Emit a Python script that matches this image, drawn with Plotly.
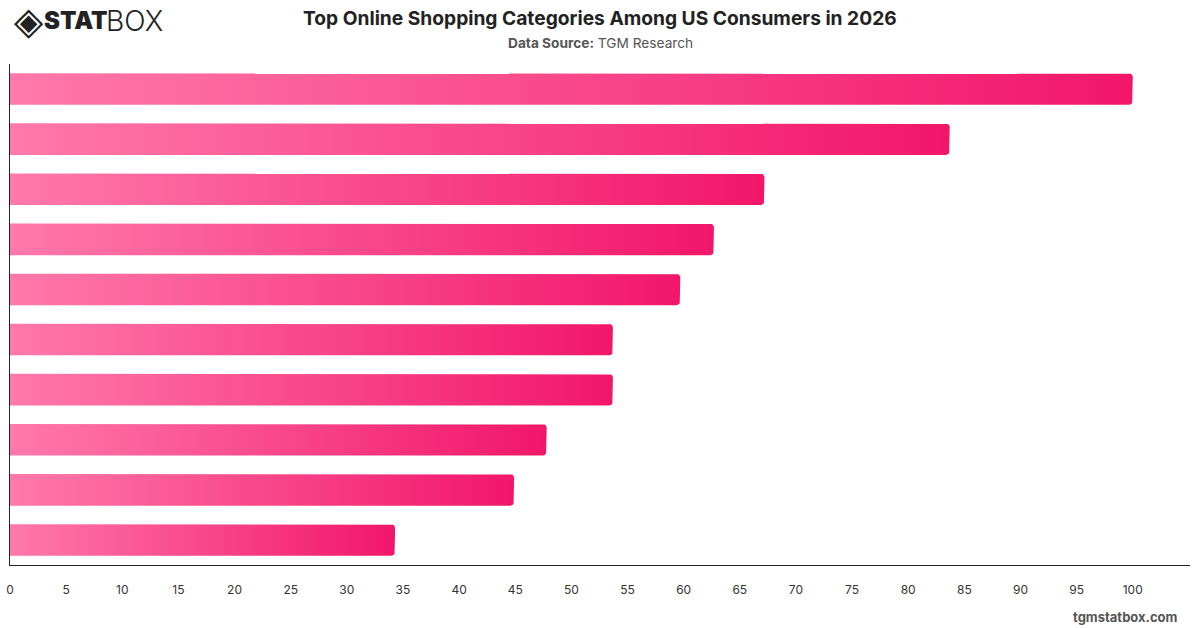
import math
import plotly.graph_objects as go

# ---------------- data ----------------
categories = [
    "Clothing & Apparel",
    "Electronics",
    "Household Products",
    "Health & Beauty",
    "Shoes",
    "Groceries",
    "Books & Media",
    "Toys & Games",
    "Sports & Outdoor",
    "Furniture",
]
values = [100, 83.7, 67.2, 62.7, 59.7, 53.7, 53.7, 47.8, 44.9, 34.3]
x_ticks = list(range(0, 101, 5))

# ---------------- layout constants ----------------
W, H = 1200, 628
ML, MR, MT, MB = 10, 10, 64, 63
X_MAX = 105.1
BAR_W = 0.63
RADIUS_PX = 4
COLOR_LEFT = "#FF79AA"
COLOR_RIGHT = "#F2166A"

plot_w = W - ML - MR
plot_h = H - MT - MB
n = len(categories)
px_per_x = plot_w / X_MAX
px_per_y = plot_h / n


def py2paper(py):
    return (H - MB - py) / plot_h


def px2paper(px):
    return (px - ML) / plot_w


def bar_outline(i, v):
    """Polygon for a horizontal bar with rounded right corners, from data."""
    rx = RADIUS_PX / px_per_x
    ry = RADIUS_PX / px_per_y
    y0, y1 = i - BAR_W / 2, i + BAR_W / 2
    xs, ys = [0, v - rx], [y0, y0]
    steps = 6
    for k in range(1, steps + 1):
        a = -math.pi / 2 + (math.pi / 2) * k / steps
        xs.append(v - rx + rx * math.cos(a))
        ys.append(y0 + ry + ry * math.sin(a))
    xs.append(v)
    ys.append(y1 - ry)
    for k in range(1, steps + 1):
        a = (math.pi / 2) * k / steps
        xs.append(v - rx + rx * math.cos(a))
        ys.append(y1 - ry + ry * math.sin(a))
    xs += [0, 0]
    ys += [y1, y0]
    return xs, ys


fig = go.Figure()
for i, (cat, v) in enumerate(zip(categories, values)):
    xs, ys = bar_outline(i, v)
    fig.add_trace(
        go.Scatter(
            x=xs,
            y=ys,
            mode="lines",
            fill="toself",
            fillgradient=dict(
                type="horizontal",
                colorscale=[[0, COLOR_LEFT], [1, COLOR_RIGHT]],
            ),
            line=dict(width=0, color=COLOR_RIGHT),
            name=cat,
            text=[f"{cat}: {v}"] * len(xs),
            hoverinfo="text",
            hoveron="fills",
            showlegend=False,
        )
    )

fig.update_layout(
    width=W,
    height=H,
    margin=dict(l=ML, r=MR, t=MT, b=MB, autoexpand=False),
    paper_bgcolor="white",
    plot_bgcolor="white",
    font=dict(family="Inter, Roboto, sans-serif", color="#333"),
    xaxis=dict(
        range=[0, X_MAX],
        tickvals=x_ticks,
        ticktext=[str(t) for t in x_ticks],
        showgrid=False,
        zeroline=False,
        showline=True,
        linecolor="#222",
        linewidth=1,
        ticks="",
        ticklabelstandoff=14,
        tickfont=dict(size=12, color="#333", family="Inter, sans-serif"),
        automargin=False,
        fixedrange=True,
    ),
    yaxis=dict(
        range=[n - 0.5, -0.5],
        tickvals=list(range(n)),
        ticktext=categories,
        showticklabels=False,
        showgrid=False,
        zeroline=False,
        showline=True,
        linecolor="#222",
        linewidth=1,
        ticks="",
        automargin=False,
        fixedrange=True,
    ),
)

annotations = [
    dict(
        text="<b>Top Online Shopping Categories Among US Consumers in 2026</b>",
        x=px2paper(600), y=py2paper(18),
        font=dict(size=19.2, color="#222", family="Inter, sans-serif"),
    ),
    dict(
        text="<b>Data Source:</b> TGM Research",
        x=px2paper(600), y=py2paper(43),
        font=dict(size=13.7, color="#555", family="Inter, sans-serif"),
    ),
    dict(
        text="<b>tgmstatbox.com</b>",
        x=px2paper(1180), y=py2paper(617), xanchor="right",
        font=dict(size=13, color="#555", family="Inter, sans-serif"),
    ),
    dict(
        text="◈",
        x=px2paper(12), y=py2paper(21), xanchor="left",
        font=dict(size=38, color="#222", family="DejaVu Sans"),
    ),
    dict(
        text="STAT",
        x=px2paper(42), y=py2paper(21), xanchor="left",
        font=dict(size=24, color="#222", family="Inter", weight=900),
    ),
    dict(
        text="BOX",
        x=px2paper(104), y=py2paper(21), xanchor="left",
        font=dict(size=28, color="#222", family="Inter", weight=300),
    ),
]
for a in annotations:
    a.setdefault("xanchor", "center")
    a["xref"] = "paper"
    a["yref"] = "paper"
    a["yanchor"] = "middle"
    a["showarrow"] = False
    fig.add_annotation(**a)

fig.write_html("out.html")
